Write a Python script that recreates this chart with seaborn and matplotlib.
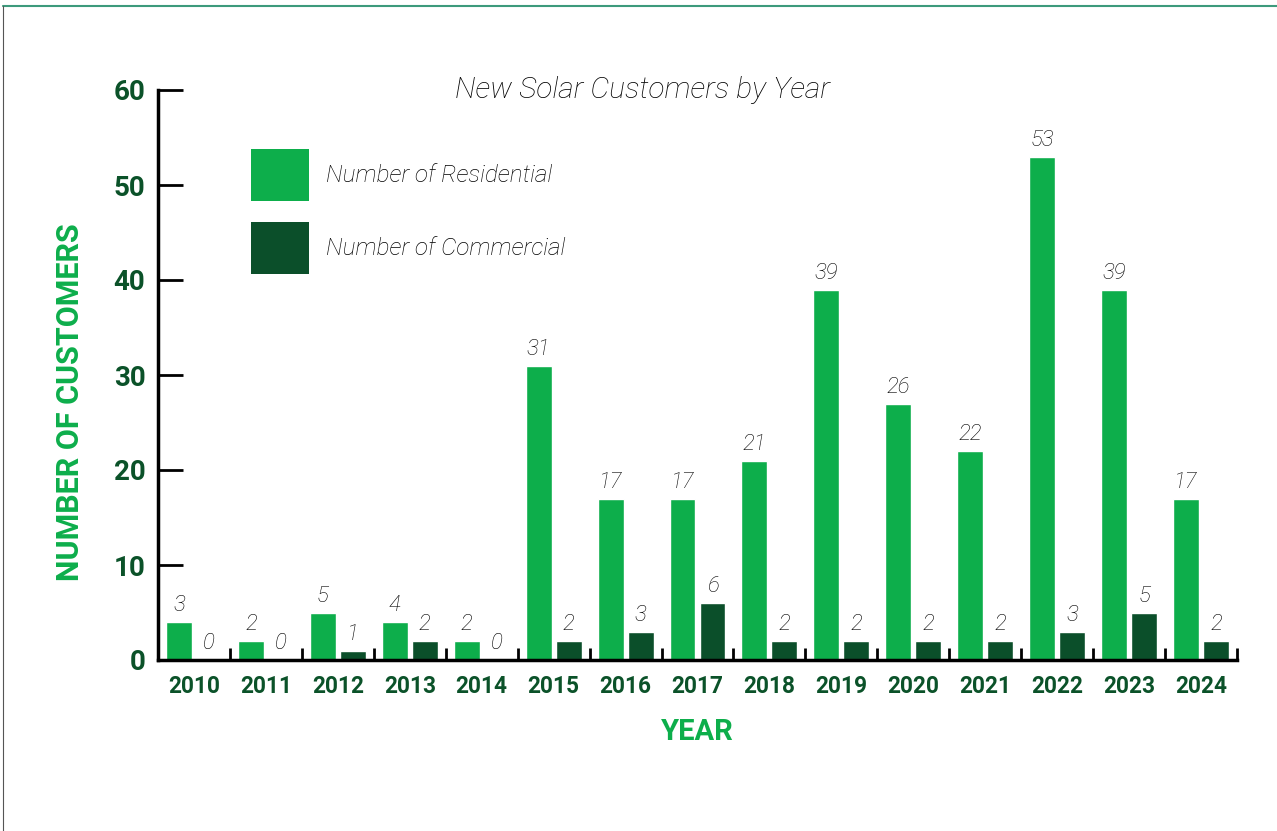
import numpy as np
import pandas as pd
import seaborn as sns
import matplotlib.pyplot as plt
from matplotlib.patches import Patch
from matplotlib.lines import Line2D
from matplotlib.ticker import FixedLocator

years = ['2010', '2011', '2012', '2013', '2014', '2015', '2016', '2017',
         '2018', '2019', '2020', '2021', '2022', '2023', '2024']
# bar heights as drawn in the picture
residential = [4, 2, 5, 4, 2, 31, 17, 17, 21, 39, 27, 22, 53, 39, 17]
commercial = [0, 0, 1, 2, 0, 2, 3, 6, 2, 2, 2, 2, 3, 5, 2]
# numbers printed on top of the bars
residential_labels = ['3', '2', '5', '4', '2', '31', '17', '17', '21', '39', '26', '22', '53', '39', '17']
commercial_labels = ['0', '0', '1', '2', '0', '2', '3', '6', '2', '2', '2', '2', '3', '5', '2']
series = ['Number of Residential', 'Number of Commercial']

RES_COLOR = '#0dae4b'
COM_COLOR = '#0b4f2a'
DARK_GREEN = '#0b5229'
LIGHT_GREEN = '#0dae4b'
TEXT = '#000000'

sns.set_style('white')
plt.rcParams['font.family'] = ['Roboto', 'DejaVu Sans']

df = pd.DataFrame({
    'year': years * 2,
    'value': residential + commercial,
    'series': [series[0]] * len(years) + [series[1]] * len(years),
})

fig = plt.figure(figsize=(12.77, 8.31), dpi=100)
ax = fig.add_axes([158 / 1277, 1 - 660 / 831, 1079 / 1277, 570 / 831])

sns.barplot(data=df, x='year', y='value', hue='series', order=years,
            hue_order=series, palette=[RES_COLOR, COM_COLOR],
            width=0.833, gap=0.134, saturation=1, legend=False, ax=ax)

for cont, labs in zip(ax.containers, [residential_labels, commercial_labels]):
    ax.bar_label(cont, labels=labs, padding=4, fontsize=16, style='italic',
                 fontweight='light', color=TEXT)

ax.set_xlim(-0.5, len(years) - 0.5)
ax.set_ylim(0, 60)
ax.set_yticks(range(0, 61, 10))
ax.xaxis.set_minor_locator(FixedLocator(np.arange(0.5, len(years), 1.0)))

sns.despine(ax=ax)
for side in ['left', 'bottom']:
    ax.spines[side].set_linewidth(2.5)
    ax.spines[side].set_color('black')

ax.tick_params(axis='y', left=True, direction='in', length=18, width=2, color='black',
               labelsize=20, labelcolor=DARK_GREEN, pad=9)
ax.tick_params(axis='x', which='major', bottom=True, length=0, labelsize=16.3,
               labelcolor=DARK_GREEN, pad=11)
ax.tick_params(axis='x', which='minor', bottom=True, direction='in', length=9,
               width=2, color='black')
for t in ax.get_xticklabels() + ax.get_yticklabels():
    t.set_fontweight('bold')

ax.set_xlabel('YEAR', fontsize=21, fontweight='bold', color=LIGHT_GREEN, labelpad=14)
ax.set_ylabel('NUMBER OF CUSTOMERS', fontsize=22, fontweight='bold', color=LIGHT_GREEN)
ax.yaxis.set_label_coords(-0.068, 0.453)

fig.text(0.503, 1 - 90 / 831, 'New Solar Customers by Year', ha='center', va='center',
         fontsize=21.5, style='italic', fontweight='light', color=TEXT)

handles = [Patch(facecolor=RES_COLOR, edgecolor='none'),
           Patch(facecolor=COM_COLOR, edgecolor='none')]
leg_fs = 17.5
fs_px = leg_fs * 100 / 72
ax.legend(handles, series, loc='upper left',
          bbox_to_anchor=(251 / 1277, 1 - 149 / 831), bbox_transform=fig.transFigure,
          frameon=False, borderpad=0, borderaxespad=0,
          handlelength=58 / fs_px, handleheight=(52 / fs_px - 0.245) / 0.65,
          labelspacing=21 / fs_px, handletextpad=17 / fs_px,
          prop={'size': leg_fs, 'style': 'italic', 'weight': 'light'},
          labelcolor=TEXT)

# thin frame lines of the original page
fig.add_artist(Line2D([3 / 1277, 1], [1 - 6 / 831, 1 - 6 / 831],
                      transform=fig.transFigure, color='#3d9a7c', lw=1.5))
fig.add_artist(Line2D([3 / 1277, 3 / 1277], [0, 1 - 6 / 831],
                      transform=fig.transFigure, color='#555555', lw=0.8))

fig.savefig('out.png', dpi=100)
